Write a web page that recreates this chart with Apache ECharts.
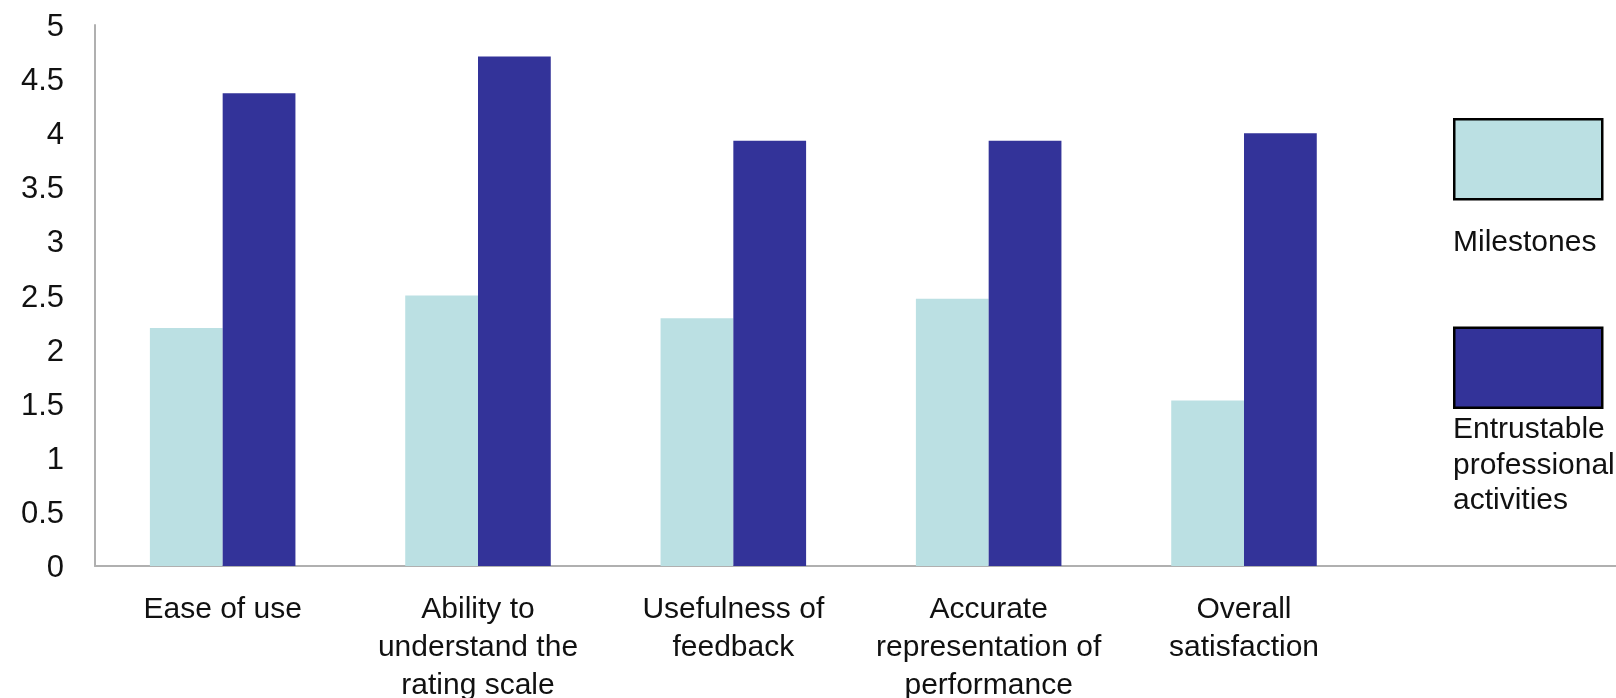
<!DOCTYPE html>
<html>
<head>
<meta charset="utf-8">
<script src="https://cdn.jsdelivr.net/npm/echarts@6/dist/echarts.min.js"></script>
<style>
  html, body { margin: 0; padding: 0; background: #fff; }
  #main { width: 1616px; height: 698px; }
</style>
</head>
<body>
<div id="main"></div>
<script>
// data
var categories = [
    'Ease of use',
    'Ability to\nunderstand the\nrating scale',
    'Usefulness of\nfeedback',
    'Accurate\nrepresentation of\nperformance',
    'Overall\nsatisfaction'
];
var seriesNames = ['Milestones', 'Entrustable\nprofessional\nactivities'];
var milestones = [2.2, 2.5, 2.29, 2.47, 1.53];
var epas = [4.37, 4.71, 3.93, 3.93, 4.0];
var yTicks = [0, 0.5, 1, 1.5, 2, 2.5, 3, 3.5, 4, 4.5, 5];

var FONT = 'Liberation Sans';
var myChart = echarts.init(document.getElementById('main'));

var option = {
    backgroundColor: '#fff',
    animation: false,
    textStyle: { fontFamily: FONT },
    // the x axis line runs past the right edge, as in the original
    grid: { left: 95, right: -11, top: 25, bottom: 132, outerBoundsMode: 'none', containLabel: false },
    legend: {
        orient: 'vertical',
        left: 1453,
        top: 118,
        padding: 0,
        itemGap: 126,
        itemWidth: 148,
        itemHeight: 80,
        icon: 'rect',
        selectedMode: false,
        data: ['m', 'e'],
        formatter: function () { return ''; },
        itemStyle: { borderColor: '#000', borderWidth: 2.5 }
    },
    graphic: [
        {
            type: 'text', left: 1453, top: 225,
            style: { text: seriesNames[0], font: '30px "' + FONT + '"', fill: '#111', lineHeight: 35 }
        },
        {
            type: 'text', left: 1453, top: 412,
            style: { text: seriesNames[1], font: '30px "' + FONT + '"', fill: '#111', lineHeight: 35.5 }
        }
    ],
    xAxis: {
        type: 'category',
        data: categories.concat(['']),
        axisLine: { lineStyle: { color: '#b0b0b0', width: 2 } },
        axisTick: { show: false },
        axisLabel: {
            interval: 0,
            color: '#111',
            fontSize: 30,
            fontFamily: FONT,
            lineHeight: 38,
            margin: 25
        }
    },
    yAxis: {
        type: 'value',
        min: yTicks[0],
        max: yTicks[yTicks.length - 1],
        interval: yTicks[1] - yTicks[0],
        splitLine: { show: false },
        axisTick: { show: false },
        axisLine: { show: true, lineStyle: { color: '#b0b0b0', width: 2 } },
        axisLabel: {
            color: '#111',
            fontSize: 31,
            fontFamily: FONT,
            margin: 31,
            formatter: function (v) { return '{a|' + v + '}'; },
            rich: { a: { fontSize: 31, fontFamily: FONT, color: '#111', padding: [5, 0, 0, 0] } }
        }
    },
    series: [
        {
            name: 'm',
            type: 'bar',
            data: milestones,
            barGap: '0%',
            barCategoryGap: '43%',
            itemStyle: { color: '#bbe0e3' }
        },
        {
            name: 'e',
            type: 'bar',
            data: epas,
            itemStyle: { color: '#333399' }
        }
    ]
};

myChart.setOption(option);
</script>
</body>
</html>
